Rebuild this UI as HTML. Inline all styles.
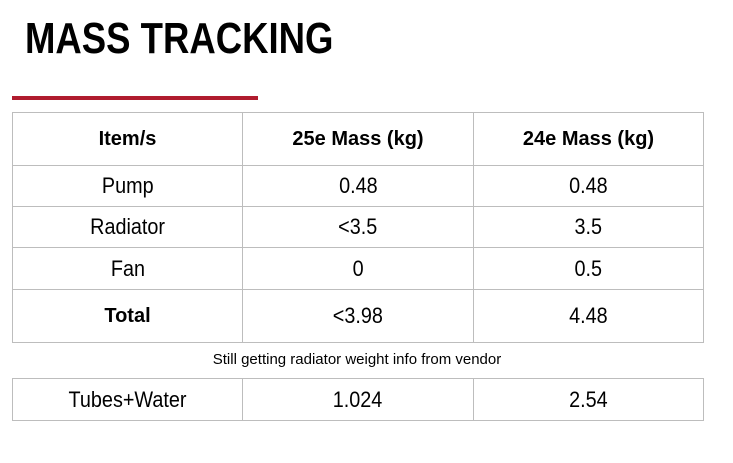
<!DOCTYPE html>
<html><head><meta charset="utf-8"><style>
body{margin:0;width:733px;height:463px;background:#fff;position:relative;overflow:hidden;font-family:"Liberation Sans",sans-serif;color:#000}
.t{position:absolute;left:25px;top:15px;font-weight:bold;font-size:44px;line-height:48px;transform-origin:0 0;transform:scaleX(0.83);white-space:nowrap}
.red{position:absolute;left:12px;top:96px;width:246px;height:4px;background:#b01c2e}
.c{position:absolute;box-sizing:border-box;border:1px solid #bdbdbd;display:flex;align-items:center;justify-content:center;font-size:22px}
.c span{display:inline-block;transform:scaleX(0.9)}
.h{font-weight:bold;font-size:20px}
.h span{transform:none}
.note{position:absolute;left:12px;width:690px;top:351px;text-align:center;font-size:15px}
</style></head><body>
<div class="t">MASS TRACKING</div>
<div class="red"></div>
<div id="tbl"></div>
<div class="note">Still getting radiator weight info from vendor</div>
<div id="tbl2"></div>
<script>
const cols=[12,242,473,703];
const rows=[112,165,206,247,289,342];
const data=[["Item/s","25e Mass (kg)","24e Mass (kg)"],["Pump","0.48","0.48"],["Radiator","<3.5","3.5"],["Fan","0","0.5"],["Total","<3.98","4.48"]];
const rows2=[378,420];
const data2=[["Tubes+Water","1.024","2.54"]];
function build(host,rs,d,boldRows){
  d.forEach((r,i)=>r.forEach((txt,j)=>{
    const el=document.createElement('div');
    
    
    el.className='c'+(boldRows.includes(i)?' h':'');
    el.style.left=cols[j]+'px';el.style.top=rs[i]+'px';
    el.style.width=(cols[j+1]-cols[j]+1)+'px';el.style.height=(rs[i+1]-rs[i]+1)+'px';
    const s=document.createElement('span');s.textContent=txt;el.appendChild(s);
    host.appendChild(el);
  }));
}
build(document.getElementById('tbl'),rows,data,[0]);
build(document.getElementById('tbl2'),rows2,data2,[]);
const cells=document.querySelectorAll('#tbl .c');
cells[12].classList.add('h');
</script>
</body></html>
